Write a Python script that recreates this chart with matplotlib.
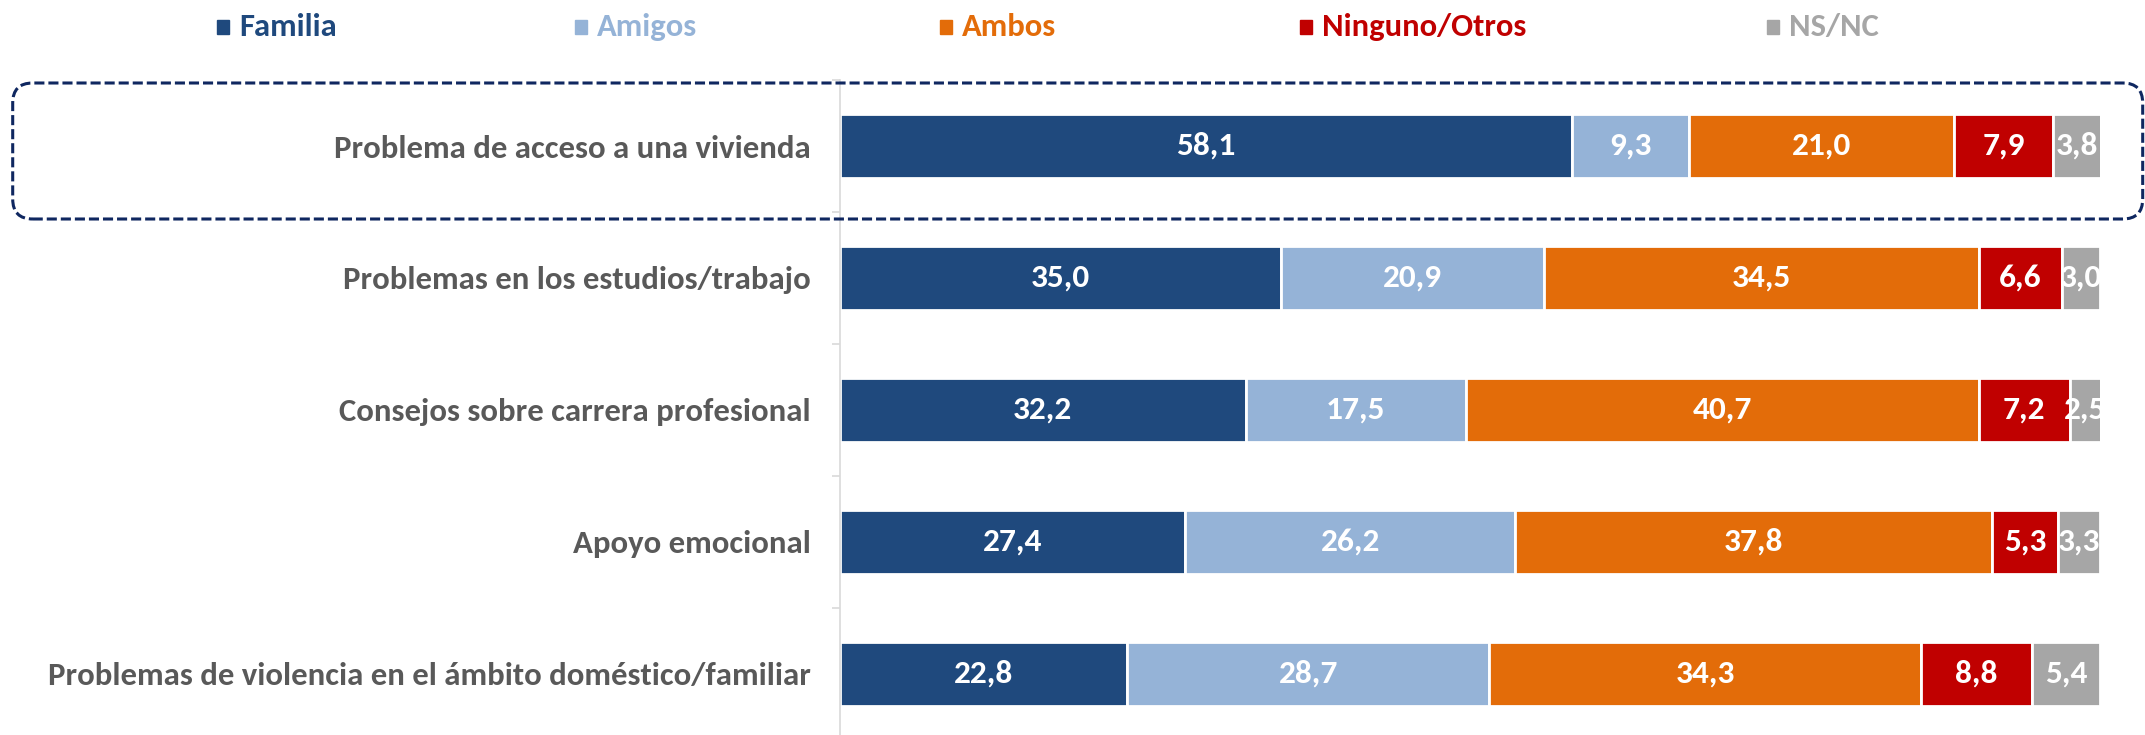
import matplotlib
matplotlib.use("Agg")
import matplotlib.pyplot as plt
from matplotlib import font_manager as fm
from matplotlib.patches import FancyBboxPatch, Rectangle
import numpy as np

categories = [
    "Problema de acceso a una vivienda",
    "Problemas en los estudios/trabajo",
    "Consejos sobre carrera profesional",
    "Apoyo emocional",
    "Problemas de violencia en el ámbito doméstico/familiar",
]
series_names = ["Familia", "Amigos", "Ambos", "Ninguno/Otros", "NS/NC"]
familia = [58.1, 35.0, 32.2, 27.4, 22.8]
amigos = [9.3, 20.9, 17.5, 26.2, 28.7]
ambos = [21.0, 34.5, 40.7, 37.8, 34.3]
ninguno = [7.9, 6.6, 7.2, 5.3, 8.8]
nsnc = [3.8, 3.0, 2.5, 3.3, 5.4]
colors = ["#1F497D", "#95B3D7", "#E36C09", "#C00000", "#A6A6A6"]

# Calibri-like font if available
installed = {f.name for f in fm.fontManager.ttflist}
font = "DejaVu Sans"
for cand in ["Carlito", "Liberation Sans Narrow", "PT Sans Narrow", "Archivo Narrow",
             "Roboto Condensed", "Open Sans Condensed"]:
    if cand in installed:
        font = cand
        break
plt.rcParams["font.family"] = [font, "DejaVu Sans"]

fig = plt.figure(figsize=(21.45, 7.35), dpi=100)
ax = fig.add_axes([840 / 2145, -5 / 735, 1260 / 2145, 660 / 735])

data = [familia, amigos, ambos, ninguno, nsnc]
y = np.arange(len(categories))
left = np.zeros(len(categories))
for vals, name, col in zip(data, series_names, colors):
    bars = ax.barh(y, vals, left=left, height=0.48, color=col,
                   edgecolor="white", linewidth=2, label=name)
    for b, v in zip(bars, vals):
        ax.text(b.get_x() + b.get_width() / 2, b.get_y() + b.get_height() / 2,
                f"{v:.1f}".replace(".", ","), ha="center", va="center",
                color="white", fontsize=24, fontweight="bold")
    left += np.array(vals)

ax.set_xlim(0, 100)
ax.set_ylim(len(categories) - 0.5, -0.5)
ax.set_yticks(y)
ax.set_yticklabels(categories, fontsize=23.6, fontweight="bold", color="#595959")
ax.set_yticks(np.arange(len(categories) + 1) - 0.5, minor=True)
ax.tick_params(axis="y", which="major", length=0, pad=21)
ax.tick_params(axis="y", which="minor", length=6, color="#D9D9D9", width=1.2)
ax.set_xticks([])
for s in ["top", "right", "bottom"]:
    ax.spines[s].set_visible(False)
ax.spines["left"].set_color("#D9D9D9")
ax.spines["left"].set_linewidth(1.2)

# legend
legend_x = [217, 575, 940, 1300, 1767]
for name, col, px in zip(series_names, colors, legend_x):
    fig.add_artist(Rectangle((px / 2145, (735 - 34) / 735), 12 / 2145, 14 / 735,
                             transform=fig.transFigure, color=col))
    fig.text((px + 22) / 2145, (735 - 27) / 735, name, color=col, fontsize=23.5,
             fontweight="bold", va="center", ha="left")

# dashed highlight box
box = FancyBboxPatch((0.127, (735 - 219) / 100), 21.3, 1.36,
                     boxstyle="round,pad=0,rounding_size=0.2",
                     transform=fig.dpi_scale_trans, fill=False,
                     edgecolor="#0F2760", linewidth=2.2, linestyle=(0, (3.3, 1.3)),
                     clip_on=False)
fig.add_artist(box)

fig.savefig("out.png", dpi=100)
